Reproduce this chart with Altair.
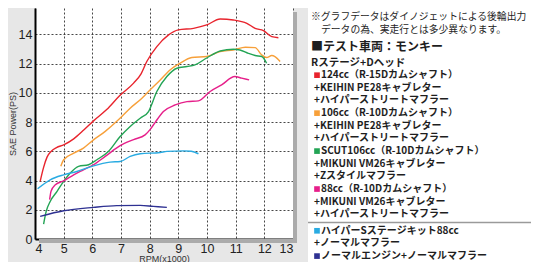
import altair as alt
import pandas as pd

# ---------------- data ----------------
names = ["124cc", "106cc", "SCUT106cc", "88cc", "S88cc", "normal"]
colors = ["#e8242d", "#f7a03a", "#23a455", "#e61f8a", "#29abe2", "#2e3192"]

rpm_124 = [4.18, 4.30, 4.42, 4.56, 4.75, 5.00, 5.35, 5.70, 6.04, 6.50, 6.95, 7.44, 7.70, 7.90, 8.25,
           8.66, 9.00, 9.53, 9.99, 10.46, 10.92, 11.39, 11.68, 11.97, 12.26, 12.49]
ps_124 = [3.94, 4.90, 5.60, 5.99, 6.25, 6.44, 6.85, 7.45, 8.08, 8.85, 9.80, 10.66, 11.30, 12.14, 13.16,
          13.96, 14.30, 14.41, 14.64, 15.05, 14.98, 14.75, 14.41, 14.25, 13.84, 13.77]

rpm_106 = [4.90, 5.00, 5.35, 5.69, 6.04, 6.45, 6.91, 7.32, 7.73, 7.90, 8.37, 8.71, 9.06, 9.47, 9.99,
           10.46, 10.92, 11.34, 11.68, 11.91, 12.08, 12.26, 12.37, 12.55]
ps_106 = [4.97, 5.42, 5.87, 6.22, 6.78, 7.36, 8.15, 8.95, 9.63, 9.97, 10.88, 11.56, 12.02, 12.41, 12.48,
          12.82, 12.93, 13.12, 13.09, 12.59, 12.41, 12.55, 12.48, 12.14]

rpm_scut = [4.30, 4.39, 4.53, 4.77, 5.00, 5.23, 5.52, 5.87, 6.16, 6.56, 6.97, 7.32, 7.67, 7.96, 8.25,
            8.60, 8.95, 9.30, 9.58, 9.99, 10.46, 10.92, 11.15, 11.44, 11.68, 11.91, 12.08]
ps_scut = [1.02, 1.89, 2.57, 3.26, 3.94, 4.51, 4.97, 5.08, 5.42, 5.99, 7.01, 7.70, 8.26, 8.72, 10.09,
           11.11, 11.68, 11.80, 11.91, 12.38, 12.86, 12.98, 12.93, 12.70, 12.55, 12.48, 12.02]

rpm_88 = [4.51, 4.56, 4.71, 5.00, 5.35, 5.69, 6.04, 6.45, 6.97, 7.44, 7.84, 8.02, 8.20, 8.48, 8.89,
          9.30, 9.70, 10.11, 10.51, 10.97, 11.21, 11.47]
ps_88 = [2.69, 3.26, 3.71, 3.98, 4.39, 4.73, 5.08, 5.65, 6.38, 6.80, 7.12, 7.50, 8.00, 8.72, 9.17,
         9.40, 9.45, 10.09, 10.54, 11.11, 11.00, 10.88]

rpm_s88 = [4.09, 4.53, 5.00, 5.46, 5.99, 6.62, 6.97, 7.32, 7.67, 8.37, 8.60, 9.18, 9.45, 9.70]
ps_s88 = [3.44, 4.05, 4.39, 4.62, 4.97, 5.26, 5.30, 5.65, 5.83, 5.92, 5.99, 6.03, 6.00, 5.83]

rpm_norm = [4.18, 5.00, 6.04, 6.85, 7.67, 8.13, 8.60]
ps_norm = [1.55, 1.93, 2.16, 2.28, 2.30, 2.23, 2.16]

x_ticks = [4, 5, 6, 7, 8, 9, 10, 11, 12, 13]
y_ticks = [0, 2, 4, 6, 8, 10, 12, 14]

notes = ["※グラフデータはダイノジェットによる後輪出力", "データの為、実走行とは多少異なります。"]
heading = "■テスト車両：モンキー"
subhead = "Rステージ+Dヘッド"
items_main = [
    ("124cc（R-15Dカムシャフト）", "124cc"),
    ("+KEIHIN PE28キャブレター", ""),
    ("+ハイパーストリートマフラー", ""),
    ("106cc（R-10Dカムシャフト）", "106cc"),
    ("+KEIHIN PE28キャブレター", ""),
    ("+ハイパーストリートマフラー", ""),
    ("SCUT106cc（R-10Dカムシャフト）", "SCUT106cc"),
    ("+MIKUNI VM26キャブレター", ""),
    ("+Zスタイルマフラー", ""),
    ("88cc（R-10Dカムシャフト）", "88cc"),
    ("+MIKUNI VM26キャブレター", ""),
    ("+ハイパーストリートマフラー", ""),
]
items_extra = [
    ("ハイパーSステージキット88cc", "S88cc"),
    ("+ノーマルマフラー", ""),
    ("ノーマルエンジン+ノーマルマフラー", "normal"),
]

# ---------------- tables ----------------
rows = []
for name, xs, ys in zip(names,
                        [rpm_124, rpm_106, rpm_scut, rpm_88, rpm_s88, rpm_norm],
                        [ps_124, ps_106, ps_scut, ps_88, ps_s88, ps_norm]):
    for i, (a, b) in enumerate(zip(xs, ys)):
        rows.append({"series": name, "rpm": a, "ps": b, "order": i})
df = pd.DataFrame(rows)

leg = []
leg.append({"text": notes[0], "kind": "note", "series": "", "row": -0.6})
leg.append({"text": notes[1], "kind": "note2", "series": "", "row": 0.4})
leg.append({"text": heading, "kind": "head", "series": "", "row": 1.8})
leg.append({"text": subhead, "kind": "sub", "series": "", "row": 3.0})
r = 4.0
for t, s in items_main:
    leg.append({"text": t, "kind": "sq" if s else "plus", "series": s, "row": r})
    r += 1
r += 0.3
for t, s in items_extra:
    leg.append({"text": t, "kind": "sq" if s else "plus", "series": s, "row": r})
    r += 1
leg_df = pd.DataFrame(leg)

# ---------------- layout ----------------
W, H = 258, 231
ROW_PX = 12.65
R0 = 9 + 0.6 * ROW_PX
row_scale = alt.Scale(domain=[0, 10], range=[R0, R0 + 10 * ROW_PX])
SEP_Y = R0 + 15.65 * ROW_PX
color_scale = alt.Scale(domain=names, range=colors)
FONT_JP = "Noto Sans CJK JP"

lines = alt.Chart(df).mark_line(strokeWidth=1.4, interpolate="monotone").encode(
    x=alt.X("rpm:Q", scale=alt.Scale(domain=[4, 13], nice=False, zero=False),
            axis=alt.Axis(values=x_ticks, title="RPM(x1000)", grid=True, ticks=False,
                          labelPadding=3, titleY=15, titleBaseline="top")),
    y=alt.Y("ps:Q", scale=alt.Scale(domain=[0, 15.8], nice=False),
            axis=alt.Axis(values=y_ticks, title="SAE Power(PS)", grid=True, ticks=False,
                          labelPadding=3, titlePadding=1)),
    color=alt.Color("series:N", scale=color_scale, legend=None),
    detail="series:N",
    order="order:Q",
)

box = pd.DataFrame({"k": [0]})
shadow_r = alt.Chart(box).mark_rect(color="#ababab").encode(
    x=alt.value(W), x2=alt.value(W + 4), y=alt.value(4), y2=alt.value(H + 4))
shadow_b = alt.Chart(box).mark_rect(color="#ababab").encode(
    x=alt.value(4), x2=alt.value(W + 4), y=alt.value(H), y2=alt.value(H + 4))
panel = alt.Chart(box).mark_rect(color="white").encode(
    x=alt.value(273), x2=alt.value(500), y=alt.value(0), y2=alt.value(260))
sep = alt.Chart(box).mark_rule(color="#9a9a9a", strokeWidth=1.5).encode(
    x=alt.value(273), x2=alt.value(500), y=alt.value(SEP_Y))


def text_layer(kind, x, size, weight):
    return alt.Chart(leg_df[leg_df.kind == kind]).mark_text(
        align="left", baseline="middle", font=FONT_JP, fontSize=size,
        fontWeight=weight, color="#1e1e1e").encode(
        x=alt.value(x),
        y=alt.Y("row:Q", scale=row_scale, axis=None),
        text="text:N",
    )


squares = alt.Chart(leg_df[leg_df.kind == "sq"]).mark_square(size=32, opacity=1).encode(
    x=alt.value(282),
    y=alt.Y("row:Q", scale=row_scale, axis=None),
    color=alt.Color("series:N", scale=color_scale, legend=None),
)

layers = [
    shadow_r, shadow_b, panel, sep, lines,
    text_layer("note", 276, 9.8, "normal"),
    text_layer("note2", 286, 9.8, "normal"),
    text_layer("head", 276, 12, "bold"),
    text_layer("sub", 276, 10.5, "bold"),
    text_layer("sq", 286, 10, "bold"),
    text_layer("plus", 279, 10, "bold"),
    squares,
]

chart = alt.layer(*layers).resolve_scale(y="independent").properties(
    width=W, height=H,
    autosize=alt.AutoSizeParams(type="none"),
    padding={"left": 27, "top": 0, "right": 238, "bottom": 23},
    background="#e7e7e7",
).configure_view(
    fill="white", strokeWidth=0,
).configure_axis(
    domainColor="black", domainWidth=2,
    gridColor="#333333", gridDash=[2, 2], gridWidth=1, gridOpacity=0.9,
    labelFont="Liberation Sans", labelFontSize=12.5, labelColor="#222222",
    titleFont="Liberation Sans", titleFontSize=9, titleFontWeight="normal", titleColor="#333333",
)

chart.save("out.html", embed_options={"renderer": "svg", "actions": False})
